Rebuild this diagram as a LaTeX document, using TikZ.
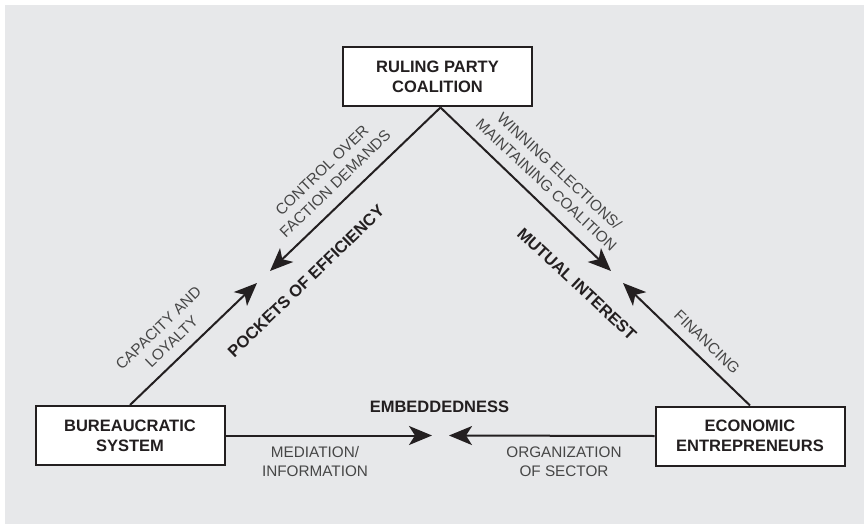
\documentclass[tikz,border=0pt]{standalone}
\usepackage{fontspec}
\setmainfont{Liberation Sans}
\usetikzlibrary{arrows.meta}
\definecolor{panelgray}{RGB}{231,232,234}
\definecolor{inkdark}{RGB}{35,31,32}
\definecolor{labelgray}{RGB}{70,70,70}
\tikzset{>={Stealth[length=23pt,width=19pt,inset=6pt]}}
\tikzset{
  actor/.style={shape=rectangle,draw=inkdark,line width=2pt,fill=white,minimum width=189pt,minimum height=59pt,align=center,text=inkdark,font=\fontsize{16.5}{20}\selectfont\bfseries},
  link/.style={draw=inkdark,line width=2pt,->},
  flowtext/.style={align=center,text=labelgray,font=\fontsize{15.3}{19}\selectfont,inner sep=0pt},
  fieldtext/.style={align=center,text=inkdark,font=\fontsize{16.5}{20}\selectfont\bfseries,inner sep=0pt}
}

\begin{document}
\begin{tikzpicture}[x=1pt,y=-1pt]

\useasboundingbox (0,0) rectangle (864,524);
\fill [panelgray] (5,5) rectangle (864,524);

\path (437.5,77) node [actor] (rpc) {RULING PARTY\\COALITION};

\path (130,435.5) node [actor] (bs) {BUREAUCRATIC\\SYSTEM};

\path (750,436) node [actor] (ee) {ECONOMIC\\ENTREPRENEURS};

\coordinate (effA) at (270,271);
\coordinate (effB) at (257,283);
\coordinate (intA) at (611,271);
\coordinate (intB) at (623,283);
\coordinate (embA) at (432,435.5);
\coordinate (embB) at (449,435.5);

\draw [link] ([xshift=3pt]rpc.south) -- (effA);
\draw [link] ([xshift=3pt]rpc.south) -- (intA);
\draw [link] (bs.north) -- (effB);
\draw [link] (ee.north) -- (intB);
\draw [link] (bs.east) -- (embA);
\draw [link] (ee.west) -- (embB);

\path (328.5,177) node [flowtext,rotate=44] (ctrl) {CONTROL OVER\\FACTION DEMANDS};

\path (553,178) node [flowtext,rotate=-43] (win) {WINNING ELECTIONS/\\MAINTAINING COALITION};

\path (165,335) node [flowtext,rotate=44] (cap) {CAPACITY AND\\LOYALTY};

\path (707,342) node [flowtext,rotate=-44] (fin) {FINANCING};

\path (315,462) node [flowtext] (med) {MEDIATION/\\INFORMATION};

\path (564,462) node [flowtext] (org) {ORGANIZATION\\OF SECTOR};

\path (306,281) node [fieldtext,rotate=44] (poe) {POCKETS OF EFFICIENCY};

\path (577,284) node [fieldtext,rotate=-43] (mi) {MUTUAL INTEREST};

\path (439.5,407) node [fieldtext] (emb) {EMBEDDEDNESS};

\end{tikzpicture}
\end{document}
